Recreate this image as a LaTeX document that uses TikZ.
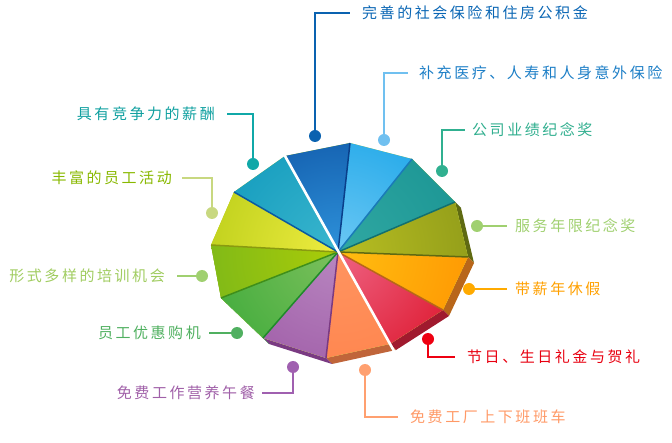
\documentclass[tikz,border=0pt]{standalone}
\usepackage{fontspec}
\newfontfamily\cjk[LetterSpace=17]{Noto Sans CJK SC}
\usetikzlibrary{calc}
% slice colours
\definecolor{aO}{HTML}{0A4C9E}\definecolor{aI}{HTML}{2E92DA}\definecolor{aE}{HTML}{0A3F8A}
\definecolor{bO}{HTML}{0EA0E6}\definecolor{bI}{HTML}{6CC8F4}\definecolor{bE}{HTML}{1A7AB8}
\definecolor{cO}{HTML}{189292}\definecolor{cI}{HTML}{30A8A2}\definecolor{cE}{HTML}{127070}
\definecolor{dO}{HTML}{8A9618}\definecolor{dI}{HTML}{B8BE22}\definecolor{dE}{HTML}{5F6A12}
\definecolor{eO}{HTML}{FF9000}\definecolor{eI}{HTML}{FFBE10}\definecolor{eE}{HTML}{B8661A}
\definecolor{fO}{HTML}{DA0A1E}\definecolor{fI}{HTML}{EE6282}\definecolor{fE}{HTML}{A01A2E}
\definecolor{gO}{HTML}{FF8048}\definecolor{gI}{HTML}{FF9460}\definecolor{gE}{HTML}{C0653A}
\definecolor{hO}{HTML}{9A54A2}\definecolor{hI}{HTML}{B886C0}\definecolor{hE}{HTML}{7A3A82}
\definecolor{iO}{HTML}{36A836}\definecolor{iI}{HTML}{7CC05C}\definecolor{iE}{HTML}{1F8A2A}
\definecolor{jO}{HTML}{74B41C}\definecolor{jI}{HTML}{AACC08}\definecolor{jE}{HTML}{3F8F1A}
\definecolor{kO}{HTML}{B4CA14}\definecolor{kI}{HTML}{EEEC40}\definecolor{kE}{HTML}{8A9A10}
\definecolor{lO}{HTML}{0C96BA}\definecolor{lI}{HTML}{3AB6CE}\definecolor{lE}{HTML}{0B5AA0}
% label colours
\definecolor{t1}{HTML}{0A66B4}\definecolor{d1}{HTML}{0A62B0}
\definecolor{t2}{HTML}{1C7EC6}\definecolor{d2}{HTML}{70C0F0}
\definecolor{t3}{HTML}{30AE8E}\definecolor{d3}{HTML}{30B090}
\definecolor{t4}{HTML}{A0D070}\definecolor{d4}{HTML}{A0D070}
\definecolor{t5}{HTML}{FFA000}\definecolor{d5}{HTML}{FFAA00}
\definecolor{t6}{HTML}{E80010}\definecolor{d6}{HTML}{EE0011}
\definecolor{t7}{HTML}{FF9966}\definecolor{d7}{HTML}{FFA070}
\definecolor{t8}{HTML}{A060A8}\definecolor{d8}{HTML}{A060B0}
\definecolor{t9}{HTML}{50B060}\definecolor{d9}{HTML}{50B060}
\definecolor{t10}{HTML}{A0CC60}\definecolor{d10}{HTML}{A0D070}
\definecolor{t11}{HTML}{88B800}\definecolor{d11}{HTML}{C8D880}
\definecolor{t12}{HTML}{10A0A0}\definecolor{d12}{HTML}{10A8A8}
\newcommand\pieslice[4]{%
  \begin{scope}\clip (C) -- (#1) -- (#2) -- cycle;
  \shade[inner color=#4, outer color=#3] (C) circle (170pt);\end{scope}}
\newcommand\pieside[3]{\fill[#3] (#1) -- (#2) -- ($(#2)+(6,6)$) -- ($(#1)+(6,6)$) -- cycle;}
\begin{document}
\begin{tikzpicture}[x=1pt,y=-1pt,
  lbl/.style={inner sep=0pt, font=\cjk\fontsize{15pt}{18pt}\selectfont},
  dot/.style={circle, fill=#1, inner sep=0pt, minimum size=12pt},
  conn/.style={draw=#1, line width=1.6pt}]
\useasboundingbox (0,0) rectangle (672,443);
\coordinate (C) at (338,252);
\coordinate (V0) at (285,156);
\coordinate (V1) at (350,143);
\coordinate (V2) at (412,159);
\coordinate (V3) at (455,202);
\coordinate (V4) at (468,257);
\coordinate (V5) at (443,310);
\coordinate (V6) at (390,344);
\coordinate (V7) at (326,358);
\coordinate (V8) at (263,338);
\coordinate (V9) at (221,298);
\coordinate (V10) at (211,245);
\coordinate (V11) at (234,192);
% side faces
\pieside{V2}{V3}{cE}
\pieside{V3}{V4}{dE}
\pieside{V4}{V5}{eE}
\pieside{V5}{V6}{fE}
\pieside{V6}{V7}{gE}
\pieside{V7}{V8}{hE}
\pieside{V8}{V9}{iE}
\pieside{V9}{V10}{jE}
% base fill
\fill[kO] (V0)--(V1)--(V2)--(V3)--(V4)--(V5)--(V6)--(V7)--(V8)--(V9)--(V10)--(V11)--cycle;
% top faces
\pieslice{V0}{V1}{aO}{aI}
\pieslice{V1}{V2}{bO}{bI}
\pieslice{V2}{V3}{cO}{cI}
\pieslice{V3}{V4}{dO}{dI}
\pieslice{V4}{V5}{eO}{eI}
\pieslice{V5}{V6}{fO}{fI}
\pieslice{V6}{V7}{gO}{gI}
\pieslice{V7}{V8}{hO}{hI}
\pieslice{V8}{V9}{iO}{iI}
\pieslice{V9}{V10}{jO}{jI}
\pieslice{V10}{V11}{kO}{kI}
\pieslice{V11}{V0}{lO}{lI}
% edge shadows
\draw[line width=1.5pt, aE] (C) -- (V1);
\draw[line width=1.5pt, bE] (C) -- (V2);
\draw[line width=1.5pt, cE] (C) -- (V3);
\draw[line width=1.5pt, dE] (C) -- (V4);
\draw[line width=1.5pt, eE] (C) -- (V5);
\draw[line width=1.5pt, hE] (C) -- (V7);
\draw[line width=1.5pt, iE] (C) -- (V8);
\draw[line width=1.5pt, jE] (C) -- (V9);
\draw[line width=1.5pt, kE] (C) -- (V10);
\draw[line width=1.5pt, lE] (C) -- (V11);
% white gap
\draw[white, line width=2.6pt] ($(C)!1.03!(V0)$) -- ($(C)!1.1!(V6)$);
% dots
\node[dot=d1] (p1) at (315,136) {};
\node[dot=d2] (p2) at (384,140) {};
\node[dot=d3] (p3) at (442,171) {};
\node[dot=d4] (p4) at (477,226) {};
\node[dot=d5] (p5) at (469,289) {};
\node[dot=d6] (p6) at (428,339) {};
\node[dot=d7] (p7) at (365,370) {};
\node[dot=d8] (p8) at (293,367) {};
\node[dot=d9] (p9) at (237,333) {};
\node[dot=d10] (p10) at (202,276) {};
\node[dot=d11] (p11) at (212,213) {};
\node[dot=d12] (p12) at (253,164) {};
% labels
\node[lbl, t1, anchor=west] (l1) at (362,13) {完善的社会保险和住房公积金};
\node[lbl, t2, anchor=west] (l2) at (419,73) {补充医疗、人寿和人身意外保险};
\node[lbl, t3, anchor=west] (l3) at (472,130) {公司业绩纪念奖};
\node[lbl, t4, anchor=west] (l4) at (515,226) {服务年限纪念奖};
\node[lbl, t5, anchor=west] (l5) at (515,289) {带薪年休假};
\node[lbl, t6, anchor=west] (l6) at (467,357) {节日、生日礼金与贺礼};
\node[lbl, t7, anchor=west] (l7) at (410,417) {免费工厂上下班班车};
\node[lbl, t8, anchor=east] (l8) at (255,393) {免费工作营养午餐};
\node[lbl, t9, anchor=east] (l9) at (201,333) {员工优惠购机};
\node[lbl, t10, anchor=east] (l10) at (165,276) {形式多样的培训机会};
\node[lbl, t11, anchor=east] (l11) at (172,178) {丰富的员工活动};
\node[lbl, t12, anchor=east] (l12) at (215,114) {具有竞争力的薪酬};
% connectors
\draw[conn=d1, shorten >=12pt] (p1) |- (l1);
\draw[conn=d2, shorten >=11pt] (p2) |- (l2);
\draw[conn=d3, shorten >=7pt] (p3) |- (l3);
\draw[conn=d4, shorten >=8pt] (p4) -- (l4);
\draw[conn=d5, shorten >=8pt] (p5) -- (l5);
\draw[conn=d6, shorten >=12pt] (p6) |- (l6);
\draw[conn=d7, shorten >=12pt] (p7) |- (l7);
\draw[conn=d8, shorten >=7pt] (p8) |- (l8);
\draw[conn=d9, shorten >=8pt] (p9) -- (l9);
\draw[conn=d10, shorten >=12pt] (p10) -- (l10);
\draw[conn=d11, shorten >=10pt] (p11) |- (l11);
\draw[conn=d12, shorten >=12pt] (p12) |- (l12);
\end{tikzpicture}
\end{document}
